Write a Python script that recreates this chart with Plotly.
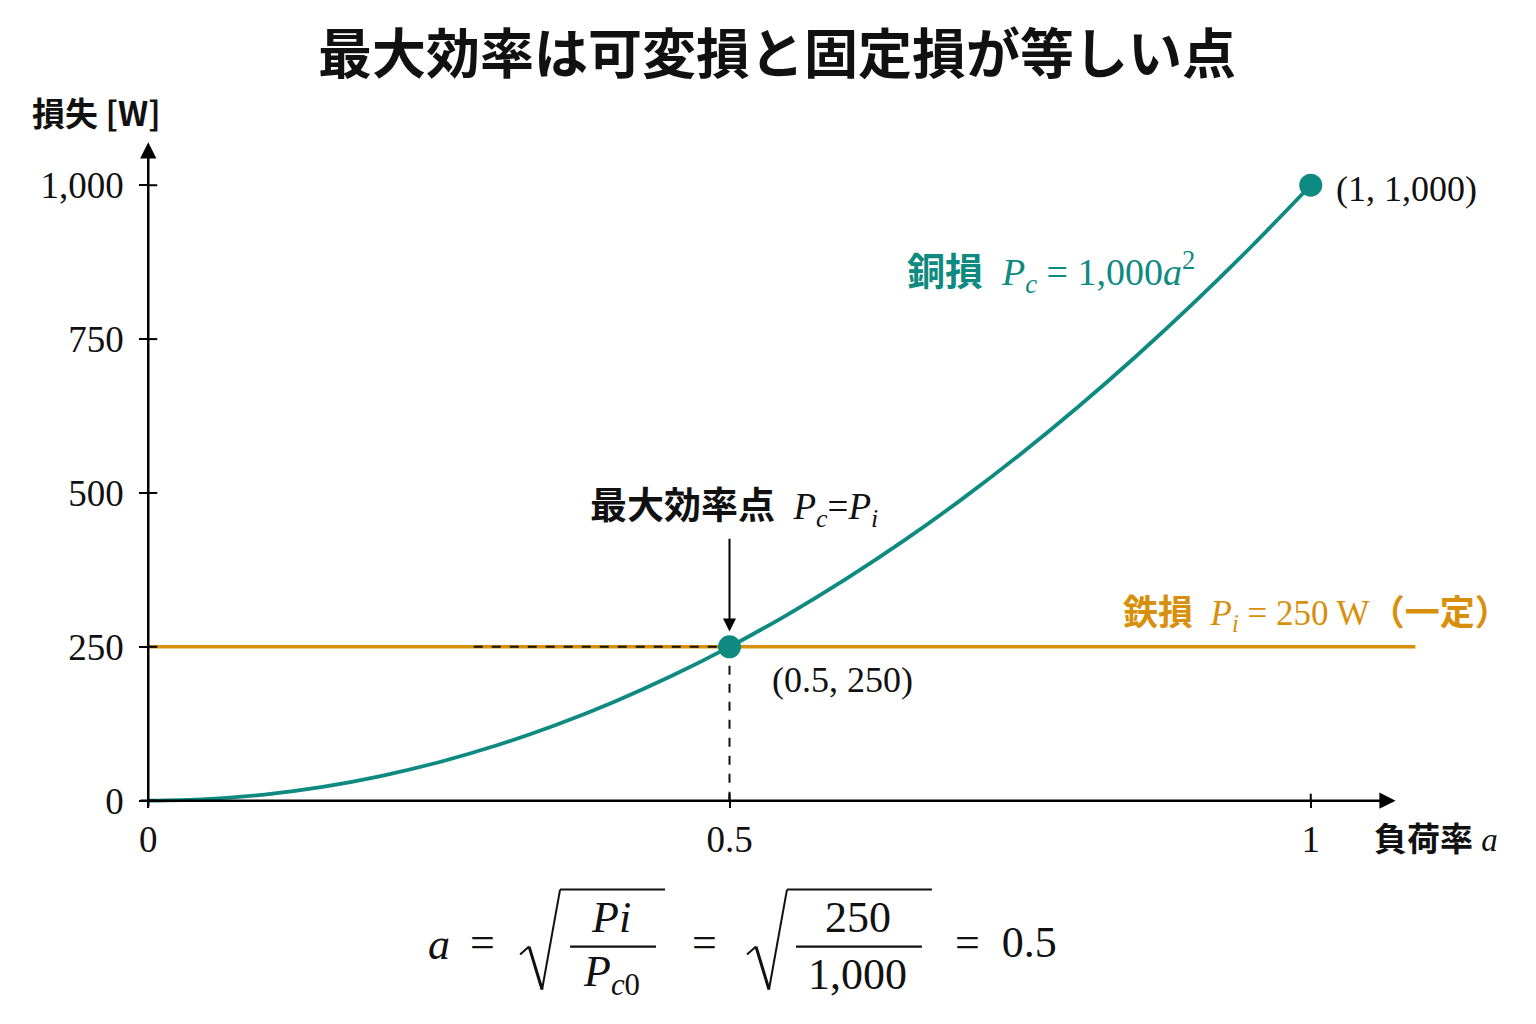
import numpy as np
import plotly.graph_objects as go

# ---- data ----
load_ratio = [0.0, 0.05, 0.1, 0.15, 0.2, 0.25, 0.3, 0.35, 0.4, 0.45, 0.5, 0.55, 0.6, 0.65,
              0.7, 0.75, 0.8, 0.85, 0.9, 0.95, 1.0]
copper_loss = [0, 2.5, 10, 22.5, 40, 62.5, 90, 122.5, 160, 202.5, 250, 302.5, 360, 422.5,
               490, 562.5, 640, 722.5, 810, 902.5, 1000]
iron_loss_x = [0.0, 1.09]
iron_loss = [250, 250]
opt_point = (0.5, 250)
full_point = (1.0, 1000)
x_ticks = [0, 0.5, 1]
x_tick_labels = ["0", "0.5", "1"]
y_ticks = [0, 250, 500, 750, 1000]
y_tick_labels = ["0", "250", "500", "750", "1,000"]

TEAL = "#0E8A80"
ORANGE = "#D8900C"
SERIF = "Liberation Serif, Noto Sans CJK JP"
JP = "Noto Sans CJK JP"

W, H = 1536, 1024
XR = [-0.02, 1.1]
YR = [-20, 1080]
XUNIT = 1163.0
YUNIT = 0.616
X0PX = 148.0
Y0PX = 801.0
L = X0PX + XR[0] * XUNIT
PW = (XR[1] - XR[0]) * XUNIT
R = W - L - PW
T = Y0PX - YR[1] * YUNIT
PH = (YR[1] - YR[0]) * YUNIT
B = H - T - PH


def px(xp):
    return (xp - L) / PW


def py(yp):
    return (T + PH - yp) / PH


fig = go.Figure()

fig.add_trace(go.Scatter(x=iron_loss_x, y=iron_loss, mode="lines",
                         line=dict(color=ORANGE, width=3.5), hoverinfo="skip"))
# dashed guides
fig.add_trace(go.Scatter(x=[0.28, opt_point[0]], y=[opt_point[1], opt_point[1]], mode="lines",
                         line=dict(color="#111111", width=2, dash="dash"), hoverinfo="skip"))
fig.add_trace(go.Scatter(x=[opt_point[0], opt_point[0]], y=[0, opt_point[1]], mode="lines",
                         line=dict(color="#111111", width=2, dash="dash"), hoverinfo="skip"))
fig.add_trace(go.Scatter(x=load_ratio, y=copper_loss, mode="lines", line_shape="spline",
                         line=dict(color=TEAL, width=3.8), hoverinfo="skip", cliponaxis=False))
fig.add_trace(go.Scatter(x=[opt_point[0], full_point[0]], y=[opt_point[1], full_point[1]],
                         mode="markers", marker=dict(color=TEAL, size=23), cliponaxis=False))

fig.update_layout(
    width=W, height=H, showlegend=False,
    plot_bgcolor="white", paper_bgcolor="white",
    margin=dict(l=L, r=R, t=T, b=B, pad=0),
    xaxis=dict(range=XR, showgrid=False, zeroline=False, showline=False,
               tickvals=x_ticks, ticktext=x_tick_labels, ticks="outside", ticklen=6,
               tickwidth=2, tickcolor="black", ticklabelstandoff=0,
               tickfont=dict(family=SERIF, size=37, color="#111111")),
    yaxis=dict(range=YR, showgrid=False, zeroline=False, showline=False,
               tickvals=y_ticks, ticktext=y_tick_labels, ticks="outside", ticklen=9,
               tickwidth=2, tickcolor="black", ticklabelstandoff=8,
               tickfont=dict(family=SERIF, size=37, color="#111111")),
)
fig.update_xaxes(anchor="free", position=py(Y0PX))
fig.update_yaxes(anchor="free", position=px(X0PX))

ann = []
# axes arrows
ann.append(dict(x=1.073, y=0, ax=XR[0] * 0.4, ay=0, xref="x", yref="y", axref="x", ayref="y",
                showarrow=True, arrowhead=2, arrowsize=1.3, arrowwidth=2.5, arrowcolor="black", text=""))
ann.append(dict(x=0, y=1070, ax=0, ay=-12, xref="x", yref="y", axref="x", ayref="y",
                showarrow=True, arrowhead=2, arrowsize=1.3, arrowwidth=2.5, arrowcolor="black", text=""))
# arrow to optimum point
ann.append(dict(x=opt_point[0], y=opt_point[1] + 25, ax=opt_point[0], ay=opt_point[1] + 178,
                xref="x", yref="y", axref="x", ayref="y",
                showarrow=True, arrowhead=2, arrowsize=1.3, arrowwidth=2, arrowcolor="black", text=""))


def label(xp, yp, text, size, color="#111111", family=SERIF, anchor="left"):
    ann.append(dict(x=px(xp), y=py(yp), xref="paper", yref="paper", showarrow=False,
                    xanchor=anchor, yanchor="middle", text=text,
                    font=dict(family=family, size=size, color=color)))


# title
label(777, 50, "<b>最大効率は可変損と固定損が等しい点</b>", 54, family=JP, anchor="center")
# y label
label(30, 112, "<b>損失 [W]</b>", 33, family=JP)
# x label
label(1372, 840, "<b>負荷率</b> <i>a</i>", 33)
# curve labels
label(905, 272, "<b>銅損</b>  <i>P<sub>c</sub></i> = 1,000<i>a</i><sup>2</sup>", 38, color=TEAL)
label(1121, 616, "<b>鉄損</b>  <i>P<sub>i</sub></i> = 250 W<b>（一定）</b>", 35, color=ORANGE)
label(588, 510, "<b>最大効率点</b>  <i>P<sub>c</sub></i>=<i>P<sub>i</sub></i>", 37)
label(770, 680, "(0.5, 250)", 36)
label(1334, 189, "(1, 1,000)", 36)

# bottom formula
FS = 44
label(439, 945, "<i>a</i>", FS, anchor="center")
label(482, 943, "=", FS, anchor="center")
label(611, 918, "<i>Pi</i>", FS, anchor="center")
label(611, 975, "<i>P<sub>c</sub></i><sub>0</sub>", FS, anchor="center")
label(704, 943, "=", FS, anchor="center")
label(858, 918, "250", FS, anchor="center")
label(858, 975, "1,000", FS, anchor="center")
label(1006, 943, "=  0.5", FS, anchor="center")
fig.update_layout(annotations=ann)

shapes = []
def pline(x0, y0, x1, y1, w=2.2):
    shapes.append(dict(type="line", xref="paper", yref="paper", x0=px(x0), y0=py(y0), x1=px(x1), y1=py(y1),
                       line=dict(color="#111111", width=w)))

def sqrt_sign(x0, x1):
    pline(x0, 955, x0 + 9, 947, 2)
    pline(x0 + 9, 947, x0 + 22, 990, 3)
    pline(x0 + 22, 990, x0 + 40, 890, 2)
    pline(x0 + 40, 890, x1, 890, 2)

sqrt_sign(520, 665)
pline(570, 947, 656, 947)
sqrt_sign(747, 932)
pline(796, 947, 922, 947)

# tick inner parts (ticks cross the axes)
for yv in y_ticks:
    shapes.append(dict(type="line", xref="x", yref="y", x0=0, x1=9 / XUNIT, y0=yv, y1=yv,
                       line=dict(color="black", width=2)))
for xv in x_ticks[1:]:
    shapes.append(dict(type="line", xref="x", yref="y", x0=xv, x1=xv, y0=0, y1=7 / YUNIT,
                       line=dict(color="black", width=2)))
fig.update_layout(shapes=shapes)

fig.write_html("out.html")
